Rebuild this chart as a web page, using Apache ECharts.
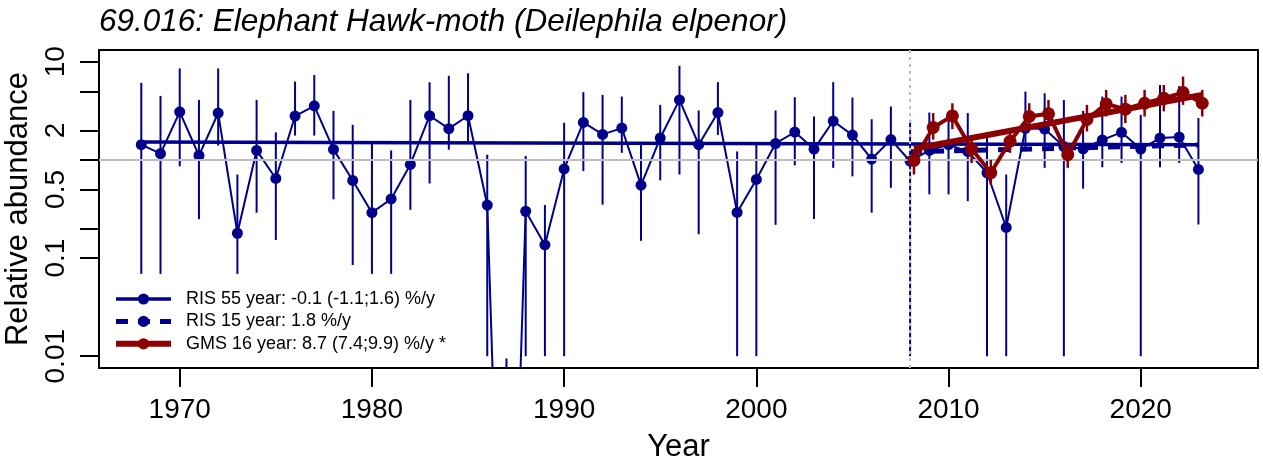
<!DOCTYPE html>
<html><head><meta charset="utf-8">
<script src="https://cdn.jsdelivr.net/npm/echarts@6/dist/echarts.min.js"></script>
<style>html,body{margin:0;padding:0;background:#fff}#c{width:1263px;height:463px}</style>
</head><body><div id="c"></div>
<script>
// ---- data ----
const titleText = '69.016: Elephant Hawk-moth (Deilephila elpenor)';
const years = [1968,1969,1970,1971,1972,1973,1974,1975,1976,1977,1978,1979,1980,1981,1982,1983,1984,1985,1986,1987,
  1988,1989,1990,1991,1992,1993,1994,1995,1996,1997,1998,1999,2000,2001,2002,2003,2004,2005,2006,2007,
  2008,2009,2010,2011,2012,2013,2014,2015,2016,2017,2018,2019,2020,2021,2022,2023];
const risIndex = [1.43,1.16,3.09,1.11,3.0,0.179,1.25,0.647,2.80,3.56,1.28,0.618,0.29,0.40,0.90,2.82,2.08,2.82,0.347,3e-7,
  0.30,0.136,0.81,2.41,1.82,2.11,0.553,1.67,4.09,1.43,3.04,0.292,0.632,1.47,1.92,1.29,2.49,1.79,1.02,1.61,
  0.97,1.25,1.43,1.22,0.74,0.205,2.1,2.06,1.37,1.3,1.6,1.91,1.29,1.67,1.71,0.80];
const risLow = [0.069,0.069,0.86,0.249,1.4,0.069,0.29,0.153,1.77,1.77,0.397,0.085,0.069,0.069,0.31,0.576,1.27,1.55,0.01,1e-7,
  0.01,0.01,0.01,0.77,0.35,1.18,0.15,0.62,0.71,0.175,1.8,0.01,0.01,0.218,0.88,0.25,0.83,0.68,0.29,0.52,
  0.01,0.446,0.446,0.38,0.01,0.01,1.32,0.83,0.01,0.51,0.84,0.93,0.01,0.84,0.93,0.22];
const risHigh = [6.1,4.49,8.56,4.09,8.56,0.71,4.09,1.91,6.28,7.33,3.16,2.28,1.49,1.25,4.09,6.18,7.2,7.63,1.13,0.0095,
  1.1,0.347,2.39,4.9,4.6,4.42,1.43,3.64,9.1,3.19,6.2,1.22,1.43,3.19,4.35,2.77,6.2,4.32,2.6,3.5,
  2.56,3.04,3.0,3.0,1.74,0.71,4.97,4.78,4.09,3.16,4.42,4.42,2.88,5.8,5.67,2.67];
const gmsYears = [2008,2009,2010,2011,2012,2013,2014,2015,2016,2017,2018,2019,2020,2021,2022,2023];
const gmsIndex = [0.99,2.14,2.81,1.29,0.74,1.55,2.77,2.95,1.13,2.58,3.72,3.29,3.78,4.25,4.85,3.78];
const gmsLow = [0.71,1.61,2.06,0.93,0.56,1.18,2.19,2.28,0.83,1.95,2.77,2.37,2.77,3.12,3.64,2.77];
const gmsHigh = [1.27,3.0,3.78,1.61,1.0,2.03,3.78,4.09,1.49,3.64,5.17,4.6,5.17,5.8,7.06,5.17];
const ris55Years = [1968, 2023], ris55Trend = [1.52, 1.43];
const ris15Years = [2008, 2023], ris15Trend = [1.21, 1.42];
const gms16Years = [2008, 2023], gms16Trend = [1.30, 4.6];
const legendNames = ['RIS 55 year: -0.1 (-1.1;1.6) %/y', 'RIS 15 year: 1.8 %/y', 'GMS 16 year: 8.7 (7.4;9.9) %/y *'];
const xTicks = [1970,1980,1990,2000,2010,2020];
const yTickMarks = [0.01,0.1,0.2,0.5,1,2,5,10];
const yTickLabels = [0.01,0.1,0.5,2,10];
const refLevel = 1, splitYear = 2008;

// ---- styling ----
const BLUE = '#00008B', RED = '#8B0000', GREY = '#BEBEBE';
const FONT = 'Liberation Sans, Arial, sans-serif';
const GMS_SHIFT = 0.2;
const pairs = (xs, ys, dx) => xs.map((x, i) => [x + (dx || 0), ys[i]]);
const bars = (xs, lo, hi, dx) => xs.map((x, i) => [x + (dx || 0), lo[i], hi[i]]);
function errRender(color, width) {
  return function (params, api) {
    const x = api.value(0);
    const a = api.coord([x, api.value(1)]);
    const b = api.coord([x, api.value(2)]);
    return { type: 'line', shape: { x1: a[0], y1: a[1], x2: b[0], y2: b[1] },
      style: { stroke: color, lineWidth: width } };
  };
}

const chart = echarts.init(document.getElementById('c'), null, { renderer: 'canvas' });
chart.setOption({
  animation: false,
  backgroundColor: '#fff',
  textStyle: { fontFamily: FONT },
  title: { text: titleText, left: 99, top: 6, padding: 0,
    textStyle: { fontFamily: FONT, fontStyle: 'italic', fontWeight: 'normal', fontSize: 31.5, color: '#000' } },
  grid: { left: 99, right: 5, top: 50, bottom: 95, show: true, borderColor: '#000', borderWidth: 2,
    backgroundColor: 'transparent', containLabel: false, outerBoundsMode: 'none' },
  legend: {
    orient: 'vertical', left: 113, top: 290, padding: 0, itemGap: 4.4,
    itemWidth: 55, itemHeight: 14, data: legendNames,
    lineStyle: { width: 'inherit' },
    textStyle: { fontFamily: FONT, fontSize: 18, color: '#000', padding: [0, 0, 0, 10] }
  },
  xAxis: {
    type: 'value', min: 1965.8, max: 2026.1,
    name: 'Year', nameLocation: 'middle', nameGap: 64,
    nameTextStyle: { fontFamily: FONT, fontSize: 31, color: '#000' },
    axisLine: { show: false },
    axisTick: { show: true, length: 19, lineStyle: { color: '#000', width: 2 }, customValues: xTicks },
    axisLabel: { customValues: xTicks, fontFamily: FONT, fontSize: 28, color: '#000', margin: 28,
      formatter: v => String(Math.round(v)) },
    splitLine: { show: false }
  },
  yAxis: {
    type: 'log', logBase: 10, min: 0.007586, max: 13.18,
    name: 'Relative abundance', nameLocation: 'middle', nameGap: 62, nameRotate: 90,
    nameTextStyle: { fontFamily: FONT, fontSize: 31, color: '#000' },
    axisLine: { show: false },
    axisTick: { show: true, length: 19, lineStyle: { color: '#000', width: 2 }, customValues: yTickMarks },
    axisLabel: { customValues: yTickLabels, rotate: 90, fontFamily: FONT, fontSize: 28, color: '#000', margin: 29,
      formatter: v => String(+(+v).toPrecision(6)) },
    splitLine: { show: false }, minorSplitLine: { show: false }
  },
  series: [
    { name: 'refs', type: 'line', data: [], silent: true, z: 1,
      markLine: { silent: true, symbol: 'none', label: { show: false },
        data: [
          { yAxis: refLevel, lineStyle: { color: GREY, width: 2, type: 'solid' } },
          { xAxis: splitYear, lineStyle: { color: GREY, width: 2, type: [3, 4] } }
        ] } },
    { name: 'risErr', type: 'custom', renderItem: errRender(BLUE, 2), clip: true, z: 2,
      data: bars(years, risLow, risHigh), encode: { x: 0, y: [1, 2] } },
    { name: 'risPts', type: 'line', data: pairs(years, risIndex), clip: true, z: 3,
      symbol: 'circle', symbolSize: 11, showSymbol: true,
      itemStyle: { color: BLUE }, lineStyle: { color: BLUE, width: 2 } },
    { name: legendNames[0], type: 'line', data: pairs(ris55Years, ris55Trend), z: 4,
      symbol: 'circle', symbolSize: 10, showSymbol: false,
      itemStyle: { color: BLUE }, lineStyle: { color: BLUE, width: 3.5 } },
    { name: legendNames[1], type: 'line', data: pairs(ris15Years, ris15Trend), z: 4,
      symbol: 'circle', symbolSize: 10, showSymbol: false,
      itemStyle: { color: BLUE }, lineStyle: { color: BLUE, width: 5, type: [12, 10] } },
    { name: 'gmsErr', type: 'custom', renderItem: errRender(RED, 2.5), clip: true, z: 5,
      data: bars(gmsYears, gmsLow, gmsHigh, GMS_SHIFT), encode: { x: 0, y: [1, 2] } },
    { name: 'gmsPts', type: 'line', data: pairs(gmsYears, gmsIndex, GMS_SHIFT), clip: true, z: 6,
      symbol: 'circle', symbolSize: 13, showSymbol: true,
      itemStyle: { color: RED }, lineStyle: { color: RED, width: 4 } },
    { name: legendNames[2], type: 'line', data: pairs(gms16Years, gms16Trend, GMS_SHIFT), z: 7,
      symbol: 'circle', symbolSize: 10, showSymbol: false,
      itemStyle: { color: RED }, lineStyle: { color: RED, width: 6 } }
  ]
});
</script></body></html>
